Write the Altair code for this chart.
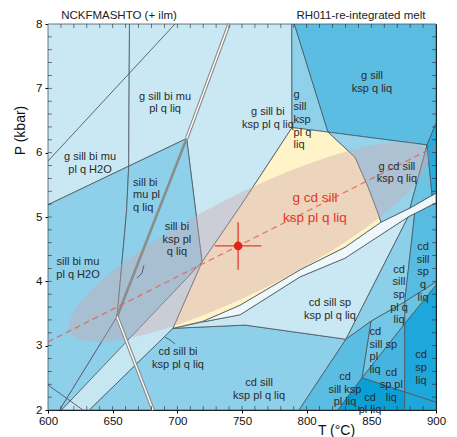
import altair as alt
import pandas as pd

# ---------------- field polygons (T in °C, P in kbar) ----------------
g_sill_bi_mu_h2o = [(600, 8), (663, 8), (662.4, 5.79), (600, 5.19)]
g_sill_bi_mu_liq = [(663, 8), (740, 8), (707.2, 6.22), (662.4, 5.79)]
g_sill_bi_ksp_liq = [(740, 8), (788.5, 8), (788.7, 6.39), (748.5, 5.16), (719.1, 4.30), (707.2, 6.22)]
g_sill_ksp_pl_liq = [(788.5, 8), (790.5, 8), (816.5, 6.32), (788.7, 6.39)]
g_sill_ksp_q_liq = [(790.5, 8), (900, 8), (900, 6.46), (893.1, 6.12), (816.5, 6.32)]
sill_bi_mu_h2o = [(600, 5.19), (662.4, 5.79), (660.8, 5.1), (653.4, 3.45), (609, 2), (600, 2)]
sill_bi_mu_liq = [(662.4, 5.79), (707.2, 6.22), (653.4, 3.45), (660.8, 5.1)]
sill_bi_ksp_liq = [(707.2, 6.22), (719.1, 4.30), (660.9, 3.05), (653.4, 3.45)]
small_tri = [(653.4, 3.45), (660.9, 3.05), (610.5, 2), (609, 2)]
band_left = [(610.5, 2), (632, 2), (696.7, 3.27), (719.1, 4.30)]
cd_sill_ksp_pl_q_liq = [(632, 2), (696.7, 3.27), (752.3, 3.32), (830.4, 3.10), (794.1, 2)]
cd_sill_sp_ksp_liq = [(696.7, 3.27), (719.9, 3.37), (748.5, 3.48), (794.9, 4.07), (829.6, 4.36),
                      (878.4, 5.0), (830.4, 3.10), (752.3, 3.32)]
white_band = [(719.9, 3.38), (748.5, 3.63), (794.9, 4.18), (829.6, 4.53), (857.5, 4.92), (879.9, 5.14),
              (900, 5.37), (900, 5.22), (883.5, 5.05), (878.4, 5.0), (829.6, 4.36), (794.9, 4.07),
              (748.5, 3.48), (719.9, 3.37)]
g_cd_sill_ksp_pl_liq = [(788.7, 6.39), (816.5, 6.32), (837.4, 5.93), (847.4, 5.47), (855.2, 5.06),
                        (857.5, 4.92), (829.6, 4.53), (794.9, 4.18), (748.5, 3.63), (719.9, 3.38),
                        (696.7, 3.27), (719.1, 4.30), (748.5, 5.16)]
g_cd_sill_ksp_q_liq = [(816.5, 6.32), (893.1, 6.12), (879.9, 5.14), (857.5, 4.92), (855.2, 5.06),
                       (847.4, 5.47), (837.4, 5.93)]
right_mid = [(893.1, 6.12), (897, 5.34), (879.9, 5.14)]
right_wedge = [(900, 6.46), (893.1, 6.12), (897, 5.34), (900, 5.37)]
cd_sill_sp_pl_q_liq = [(830.4, 3.10), (878.4, 5.0), (883.5, 5.05), (875.8, 3.68), (849.7, 3.38)]
cd_sill_sp_q_liq = [(883.5, 5.05), (900, 5.22), (900, 3.99), (875.8, 3.68)]
cd_sill_sp_liq = [(875.8, 3.68), (900, 3.99), (900, 3.94), (875.8, 3.34)]
cd_sill_sp_pl_liq = [(849.7, 3.38), (875.8, 3.68), (875.8, 3.34), (842.8, 2.50)]
cd_sill_ksp_pl_liq = [(830.4, 3.10), (849.7, 3.38), (842.8, 2.50), (824.2, 2), (794.1, 2)]
cd_sp_pl_liq = [(842.8, 2.50), (875.8, 3.34), (875.8, 2.28)]
cd_sp_liq = [(875.8, 3.34), (900, 3.94), (900, 2.12), (875.8, 2.28)]
cd_pl_liq = [(842.8, 2.50), (875.8, 2.28), (875.8, 2), (824.2, 2)]
corner_br = [(875.8, 2.28), (900, 2.12), (900, 2), (875.8, 2)]

FIELDS = [
    ("g_sill_bi_mu_h2o", g_sill_bi_mu_h2o, "#c9e8f3"),
    ("g_sill_bi_mu_liq", g_sill_bi_mu_liq, "#c9e8f3"),
    ("g_sill_bi_ksp_liq", g_sill_bi_ksp_liq, "#c9e8f3"),
    ("g_sill_ksp_pl_liq", g_sill_ksp_pl_liq, "#8fd1ea"),
    ("g_sill_ksp_q_liq", g_sill_ksp_q_liq, "#5bbde2"),
    ("sill_bi_mu_h2o", sill_bi_mu_h2o, "#8ed0ea"),
    ("sill_bi_mu_liq", sill_bi_mu_liq, "#8ed0ea"),
    ("sill_bi_ksp_liq", sill_bi_ksp_liq, "#8ed0ea"),
    ("small_tri", small_tri, "#8ed0ea"),
    ("band_left", band_left, "#c6e7f2"),
    ("cd_sill_ksp_pl_q_liq", cd_sill_ksp_pl_q_liq, "#8ed0ea"),
    ("cd_sill_sp_ksp_liq", cd_sill_sp_ksp_liq, "#c9e8f3"),
    ("white_band", white_band, "#eef8fb"),
    ("g_cd_sill_ksp_pl_liq", g_cd_sill_ksp_pl_liq, "#fef4c8"),
    ("g_cd_sill_ksp_q_liq", g_cd_sill_ksp_q_liq, "#96d3eb"),
    ("right_mid", right_mid, "#6cc4e5"),
    ("right_wedge", right_wedge, "#2aaddd"),
    ("cd_sill_sp_pl_q_liq", cd_sill_sp_pl_q_liq, "#8ccfe9"),
    ("cd_sill_sp_q_liq", cd_sill_sp_q_liq, "#58bce2"),
    ("cd_sill_sp_liq", cd_sill_sp_liq, "#6cc4e5"),
    ("cd_sill_sp_pl_liq", cd_sill_sp_pl_liq, "#72c6e6"),
    ("cd_sill_ksp_pl_liq", cd_sill_ksp_pl_liq, "#5cbde2"),
    ("cd_sp_pl_liq", cd_sp_pl_liq, "#45b5e0"),
    ("cd_sp_liq", cd_sp_liq, "#1ea7db"),
    ("cd_pl_liq", cd_pl_liq, "#0c9fd6"),
    ("corner_br", corner_br, "#1ea7db"),
]

# ---------------- extra reaction lines ----------------
line_mu_out = [(600, 5.87), (698.2, 8)]
line_lower_left = [(600, 2.39), (627, 2)]
thick_line = [(707.2, 6.22), (653.4, 3.45)]
double_upper = [(707.2, 6.22), (740, 8)]
double_lower = [(653.4, 3.45), (681.2, 2)]
dashed_trend = [(600, 3.06), (900, 6.10)]
arrow_a = [(698.2, 3.03), (693.5, 3.10), (690.5, 3.13)]
arrow_b = [(674.2, 4.25), (672.5, 4.12), (668.8, 4.05)]

# ---------------- estimate + ellipse ----------------
est_T = [747]
est_P = [4.55]
est_dT = [18]
est_dP = [0.37]
ellipse_T = [755.4]
ellipse_P = [4.61]

# ---------------- labels ----------------
label_text = [
    "g sill bi mu\npl q H2O", "g sill bi mu\npl q liq", "g sill bi\nksp pl q liq",
    "g\nsill\nksp\npl q\nliq", "g sill\nksp q liq", "g cd sill\nksp q liq",
    "sill bi\nmu pl\nq liq", "sill bi\nksp pl\nq liq", "sill bi mu\npl q H2O",
    "cd sill bi\nksp pl q liq", "cd sill\nksp pl q liq", "cd sill sp\nksp pl q liq",
    "cd\nsill ksp\npl liq", "cd\nsill\nsp\npl q\nliq", "cd\nsill\nsp\nq\nliq",
    "cd\nsill sp\npl\nliq", "cd\nsp pl\nliq", "cd\nsp\nliq", "cd\npl liq",
]
label_T = [632.5, 690.5, 770, 789.9, 850.5, 869.8, 665.8, 699.7, 623.2,
           700.5, 763.2, 818, 829.6, 871.4, 890, 848.6, 865.4, 888.4, 849]
label_P = [5.93, 6.87, 6.63, 6.90, 7.19, 5.78, 5.53, 4.84, 4.30,
           2.90, 2.42, 3.66, 2.51, 4.18, 4.53, 3.21, 2.58, 2.85, 2.19]
label_align = ["center", "center", "center", "left", "center", "center",
               "left", "center", "center", "center", "center", "center",
               "center", "center", "center", "left", "center", "center", "center"]
red_label = ["g cd sill\nksp pl q liq"]
red_label_T = [806.4]
red_label_P = [5.30]
header_text = ["NCKFMASHTO (+ ilm)", "RH011-re-integrated melt"]
header_T = [654.9, 842]
header_P = [8.13, 8.13]

x_ticks = [600, 650, 700, 750, 800, 850, 900]
y_ticks = [2, 3, 4, 5, 6, 7, 8]
x_minor = list(range(610, 900, 10))
y_minor = [2.2, 2.4, 2.6, 2.8, 3.2, 3.4, 3.6, 3.8, 4.2, 4.4, 4.6, 4.8,
           5.2, 5.4, 5.6, 5.8, 6.2, 6.4, 6.6, 6.8, 7.2, 7.4, 7.6, 7.8, 3, 4, 5, 6, 7]

FONT = "Liberation Sans"
W, H = 388, 386
xs = alt.Scale(domain=[600, 900], nice=False, zero=False)
ys = alt.Scale(domain=[2, 8], nice=False, zero=False)


def poly_df(items):
    rows = []
    for name, pts, col in items:
        closed = list(pts) + [pts[0]]
        for i, (t, p) in enumerate(closed):
            rows.append({"field": name, "i": i, "T": t, "P": p, "color": col})
    return pd.DataFrame(rows)


def lines_df(items):
    rows = []
    for name, pts in items:
        for i, (t, p) in enumerate(pts):
            rows.append({"line": name, "i": i, "T": t, "P": p})
    return pd.DataFrame(rows)


X = alt.X("T:Q", scale=xs, axis=alt.Axis(values=x_ticks, title="T (°C)", titleX=288, titleY=20,
                                           titleBaseline="middle", titleFontWeight="normal",
                                           tickSize=3, labelPadding=2, format="d", labelFlush=False))
Y = alt.Y("P:Q", scale=ys, axis=alt.Axis(values=y_ticks, title="P (kbar)", titleX=-28, titleY=106,
                                           titleAngle=270, titleAlign="center", titleBaseline="middle",
                                           titleFontWeight="normal", tickSize=3, labelPadding=3,
                                           format="d", labelFlush=False))
Xn = alt.X("T:Q", scale=xs)
Yn = alt.Y("P:Q", scale=ys)

fields = alt.Chart(poly_df(FIELDS)).mark_line(stroke="#4a5560", strokeWidth=0.8, strokeJoin="round").encode(
    x=X, y=Y, detail="field:N", order="i:Q", fill=alt.Fill("color:N", scale=None)
)

ell = alt.Chart(pd.DataFrame({"T": ellipse_T, "P": ellipse_P})).mark_point(
    shape="M -1 0 C -1 -0.1325 -0.5523 -0.24 0 -0.24 C 0.5523 -0.24 1 -0.1325 1 0 "
          "C 1 0.1325 0.5523 0.24 0 0.24 C -0.5523 0.24 -1 0.1325 -1 0 Z",
    size=160000, angle=333.2, filled=True, color="#d0a4a8", opacity=0.38, strokeWidth=0
).encode(x=Xn, y=Yn)

thin = alt.Chart(lines_df([("mu", line_mu_out), ("ll", line_lower_left), ("aa", arrow_a), ("ab", arrow_b)])).mark_line(
    color="#3d4650", strokeWidth=0.8).encode(x=Xn, y=Yn, detail="line:N", order="i:Q")
thick = alt.Chart(lines_df([("t", thick_line)])).mark_line(color="#8c8c8c", strokeWidth=2.6).encode(
    x=Xn, y=Yn, detail="line:N", order="i:Q")
dbl_df = lines_df([("u", double_upper), ("l", double_lower)])
dbl_outer = alt.Chart(dbl_df).mark_line(color="#8a8a8a", strokeWidth=3.6).encode(x=Xn, y=Yn, detail="line:N", order="i:Q")
dbl_inner = alt.Chart(dbl_df).mark_line(color="#ffffff", strokeWidth=1.4).encode(x=Xn, y=Yn, detail="line:N", order="i:Q")
dashed = alt.Chart(lines_df([("d", dashed_trend)])).mark_line(color="#e8615a", strokeWidth=1.3, strokeDash=[6, 4],
                                                               opacity=0.85).encode(x=Xn, y=Yn, order="i:Q")

est = pd.DataFrame({"T": est_T, "P": est_P, "dT": est_dT, "dP": est_dP})
est["T0"] = est["T"] - est["dT"]
est["T1"] = est["T"] + est["dT"]
est["P0"] = est["P"] - est["dP"]
est["P1"] = est["P"] + est["dP"]
hbar = alt.Chart(est).mark_rule(color="#e63b30", strokeWidth=1.3).encode(x=alt.X("T0:Q", scale=xs), x2="T1:Q", y=Yn)
vbar = alt.Chart(est).mark_rule(color="#e63b30", strokeWidth=1.3).encode(x=Xn, y=alt.Y("P0:Q", scale=ys), y2="P1:Q")
dot = alt.Chart(est).mark_circle(color="#e2231a", size=75, opacity=1).encode(x=Xn, y=Yn)

# inner minor ticks on all four sides
xm = pd.DataFrame({"T": x_minor})
ym = pd.DataFrame({"P": y_minor})
tick_style = dict(color="#222222", thickness=0.8, size=4)
t_bottom = alt.Chart(xm).mark_tick(**tick_style).encode(x=Xn, y=alt.value(H - 2))
t_top = alt.Chart(xm).mark_tick(**tick_style).encode(x=Xn, y=alt.value(2))
t_left = alt.Chart(ym).mark_tick(**tick_style).encode(y=Yn, x=alt.value(2))
t_right = alt.Chart(ym).mark_tick(**tick_style).encode(y=Yn, x=alt.value(W - 2))

lab_df = pd.DataFrame({"t": label_text, "T": label_T, "P": label_P, "a": label_align})
text_style = dict(font=FONT, fontSize=11, lineHeight=12.6, color="#2b2b2b", baseline="middle", lineBreak="\n")
labels_c = alt.Chart(lab_df).transform_filter(alt.datum.a == "center").mark_text(
    align="center", **text_style).encode(x=Xn, y=Yn, text="t:N")
labels_l = alt.Chart(lab_df).transform_filter(alt.datum.a == "left").mark_text(
    align="left", **text_style).encode(x=Xn, y=Yn, text="t:N")
red = alt.Chart(pd.DataFrame({"t": red_label, "T": red_label_T, "P": red_label_P})).mark_text(
    font=FONT, fontSize=13.5, lineHeight=20, color="#e8332a", align="center", baseline="middle", lineBreak="\n"
).encode(x=Xn, y=Yn, text="t:N")
header = alt.Chart(pd.DataFrame({"t": header_text, "T": header_T, "P": header_P})).mark_text(
    font=FONT, fontSize=11.5, color="#222222", align="center", baseline="middle"
).encode(x=Xn, y=Yn, text="t:N")

chart = alt.layer(fields, ell, thin, thick, dbl_outer, dbl_inner, dashed, hbar, vbar, dot,
                  t_bottom, t_top, t_left, t_right, labels_c, labels_l, red, header).properties(
    width=W, height=H, autosize=alt.AutoSizeParams(type="none"),
    padding={"left": 40, "top": 16, "right": 13, "bottom": 27}
).configure_axis(
    labelFont=FONT, labelFontSize=11.5, titleFont=FONT, titleFontSize=14, domainColor="black",
    tickColor="black", labelColor="#111111", titleColor="#111111", grid=False
).configure_view(stroke="black", strokeWidth=1)

chart.save("out.html", embed_options={"renderer": "svg", "actions": False})
